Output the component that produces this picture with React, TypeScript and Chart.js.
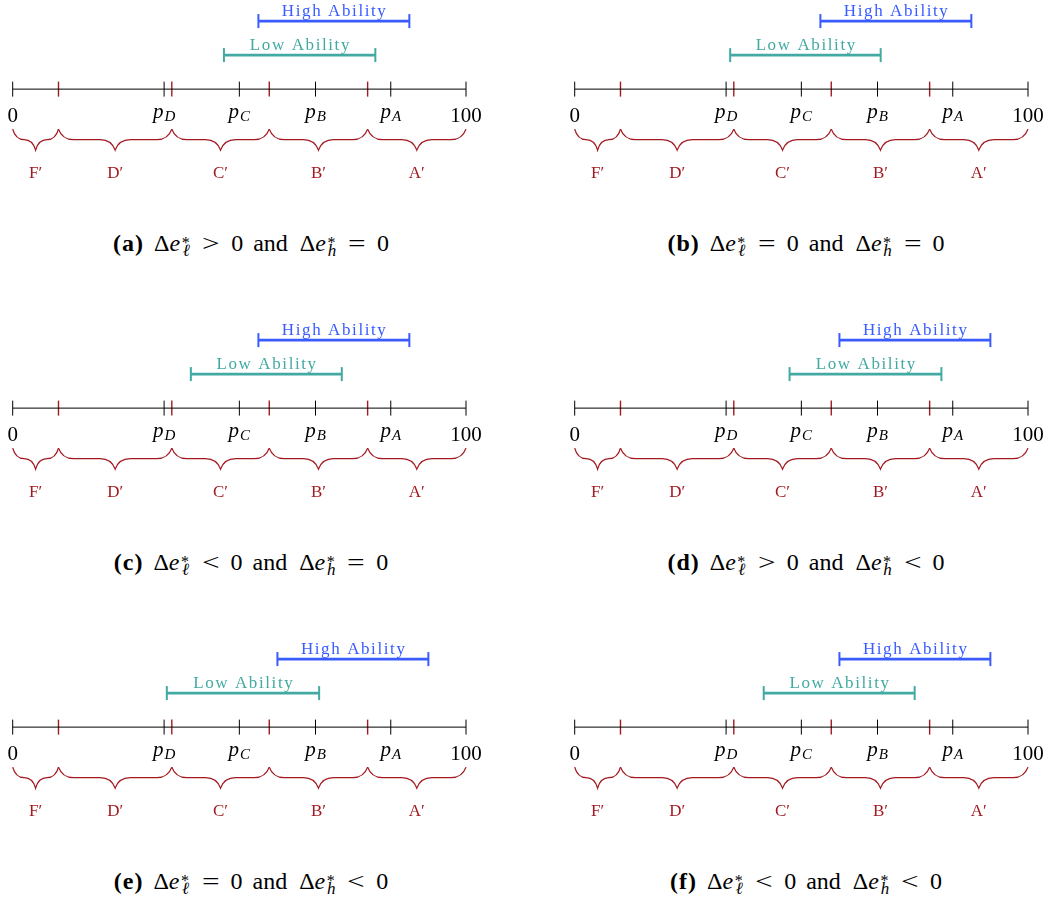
import React, { useEffect, useRef } from 'react';
import { Chart, registerables } from 'chart.js';

Chart.register(...registerables);

// ---- data ----
const panelIds = ['a', 'b', 'c', 'd', 'e', 'f'];
const highStart = [54.2, 54.2, 54.2, 58.4, 58.4, 58.4];
const highEnd = [87.5, 87.5, 87.5, 91.7, 91.7, 91.7];
const lowStart = [46.6, 34.3, 39.3, 47.4, 34.0, 41.7];
const lowEnd = [80.0, 67.5, 72.6, 80.9, 67.6, 75.0];
const lowSign = ['>', '=', '<', '>', '=', '<'];
const highSign = ['=', '=', '=', '<', '<', '<'];

const axisTickValues = [0, 33.4, 50, 66.8, 83.4, 100];
const axisTickLabels = ['0', 'p_D', 'p_C', 'p_B', 'p_A', '100'];
const gradeCutoffs = [10.1, 35.1, 56.6, 78.3];
const gradeLabels = ['F\u2032', 'D\u2032', 'C\u2032', 'B\u2032', 'A\u2032'];
const seriesLabels = ['High Ability', 'Low Ability'];

// ---- style ----
const RED = 'rgb(162, 26, 32)';
const BLUE = 'rgb(58, 92, 255)';
const TEAL = 'rgb(66, 170, 162)';
const SERIF = '"Liberation Serif", "DejaVu Serif", serif';

function drawBrace(ctx: CanvasRenderingContext2D, x1: number, x2: number, y: number, d: number, w: number) {
  const len = x2 - x1;
  const m = (x1 + x2) / 2;
  const a = Math.min(w, len / 4);
  ctx.beginPath();
  ctx.moveTo(x1, y);
  ctx.bezierCurveTo(x1 + 0.15 * a, y + 0.3 * d, x1 + 0.5 * a, y + 0.5 * d, x1 + a, y + 0.5 * d);
  ctx.lineTo(m - a, y + 0.5 * d);
  ctx.bezierCurveTo(m - 0.5 * a, y + 0.5 * d, m - 0.15 * a, y + 0.7 * d, m, y + d);
  ctx.bezierCurveTo(m + 0.15 * a, y + 0.7 * d, m + 0.5 * a, y + 0.5 * d, m + a, y + 0.5 * d);
  ctx.lineTo(x2 - a, y + 0.5 * d);
  ctx.bezierCurveTo(x2 - 0.5 * a, y + 0.5 * d, x2 - 0.15 * a, y + 0.3 * d, x2, y);
  ctx.stroke();
}

function spacedText(ctx: CanvasRenderingContext2D, text: string, cx: number, y: number, spacing: number) {
  (ctx as any).letterSpacing = spacing + 'px';
  const w = ctx.measureText(text).width - spacing;
  ctx.textAlign = 'left';
  ctx.fillText(text, cx - w / 2, y);
  (ctx as any).letterSpacing = '0px';
}

const annotatePlugin = {
  id: 'annotate',
  afterDatasetsDraw(chart: any) {
    const ctx: CanvasRenderingContext2D = chart.ctx;
    const xs = chart.scales.x;
    const ys = chart.scales.y;
    const y0 = ys.getPixelForValue(0);
    ctx.save();
    ctx.textBaseline = 'alphabetic';
    // axis tick labels
    ctx.fillStyle = '#000';
    axisTickValues.forEach((v, i) => {
      const lab = axisTickLabels[i];
      const px = xs.getPixelForValue(v);
      if (lab.startsWith('p_')) {
        const sub = lab.slice(2);
        ctx.font = 'italic 21px ' + SERIF;
        const w1 = ctx.measureText('p').width;
        ctx.font = 'italic 15px ' + SERIF;
        const w2 = ctx.measureText(sub).width;
        const left = px - (w1 + w2 + 1) / 2;
        ctx.textAlign = 'left';
        ctx.font = 'italic 21px ' + SERIF;
        ctx.fillText('p', left, y0 + 28.6);
        ctx.font = 'italic 15px ' + SERIF;
        ctx.fillText(sub, left + w1 + 1, y0 + 32);
      } else {
        ctx.font = '21px ' + SERIF;
        ctx.textAlign = 'center';
        ctx.fillText(lab, px, y0 + 33.3);
      }
    });
    // braces
    const bounds = [0, ...gradeCutoffs, 100];
    ctx.strokeStyle = RED;
    ctx.lineWidth = 1.3;
    ctx.fillStyle = RED;
    for (let i = 0; i < bounds.length - 1; i++) {
      const x1 = xs.getPixelForValue(bounds[i]);
      const x2 = xs.getPixelForValue(bounds[i + 1]);
      drawBrace(ctx, x1, x2, y0 + 40, 21, 15);
      ctx.font = '17px ' + SERIF;
      ctx.textAlign = 'center';
      ctx.fillText(gradeLabels[i], (x1 + x2) / 2, y0 + 89);
    }
    // interval labels
    const ds = chart.data.datasets;
    const hi = ds[3].data, lo = ds[4].data;
    ctx.font = '17px ' + SERIF;
    ctx.fillStyle = BLUE;
    spacedText(ctx, seriesLabels[0], (xs.getPixelForValue(hi[0].x) + xs.getPixelForValue(hi[1].x)) / 2, ys.getPixelForValue(2) - 5.5, 1.6);
    ctx.fillStyle = TEAL;
    spacedText(ctx, seriesLabels[1], (xs.getPixelForValue(lo[0].x) + xs.getPixelForValue(lo[1].x)) / 2, ys.getPixelForValue(1) - 5.2, 1.6);
    ctx.restore();
  },
};

function Panel({ idx }: { idx: number }) {
  const ref = useRef<HTMLCanvasElement | null>(null);
  useEffect(() => {
    if (!ref.current) return;
    const chart = new Chart(ref.current, {
      type: 'scatter',
      data: {
        datasets: [
          {
            data: [{ x: 0, y: 0 }, { x: 100, y: 0 }],
            showLine: true, borderColor: '#000', borderWidth: 1, pointRadius: 0, clip: false,
          } as any,
          {
            data: axisTickValues.map((v) => ({ x: v, y: 0 })),
            showLine: false, pointStyle: 'line', pointRotation: 90, pointRadius: 7.5,
            pointBorderColor: '#000', pointBorderWidth: 1, clip: false,
          },
          {
            data: gradeCutoffs.map((v) => ({ x: v, y: 0 })),
            showLine: false, pointStyle: 'line', pointRotation: 90, pointRadius: 7.5,
            pointBorderColor: RED, pointBorderWidth: 1.4, clip: false,
          },
          {
            data: [{ x: highStart[idx], y: 2 }, { x: highEnd[idx], y: 2 }],
            showLine: true, borderColor: BLUE, borderWidth: 2.6, pointStyle: 'line', pointRotation: 90,
            pointRadius: 7, pointBorderColor: BLUE, pointBorderWidth: 2, clip: false,
          },
          {
            data: [{ x: lowStart[idx], y: 1 }, { x: lowEnd[idx], y: 1 }],
            showLine: true, borderColor: TEAL, borderWidth: 2.6, pointStyle: 'line', pointRotation: 90,
            pointRadius: 7, pointBorderColor: TEAL, pointBorderWidth: 2, clip: false,
          },
        ] as any,
      },
      options: {
        animation: false,
        responsive: false,
        maintainAspectRatio: false,
        events: [],
        layout: { autoPadding: false, padding: { left: 12.7, right: 20, top: 0, bottom: 0 } },
        scales: {
          x: { type: 'linear', min: 0, max: 100, display: false },
          y: { type: 'linear', min: -3.26, max: 2.62, display: false },
        },
        plugins: { legend: { display: false }, tooltip: { enabled: false } },
      } as any,
      plugins: [annotatePlugin],
    });
    return () => chart.destroy();
  }, [idx]);
  const col = idx % 2;
  const row = Math.floor(idx / 2);
  return (
    <canvas
      ref={ref}
      width={486}
      height={200}
      style={{ position: 'absolute', left: col ? 562 : 0, top: row * 319, width: 486, height: 200 }}
    />
  );
}

function SupSub({ sub }: { sub: string }) {
  return (
    <>
      <span style={{ display: 'inline-block', fontSize: 16, verticalAlign: '3px', width: 9, marginLeft: 1 }}>*</span>
      <span style={{ display: 'inline-block', fontSize: 17, fontStyle: 'italic', verticalAlign: '-5px', marginLeft: -9, width: 10 }}>{sub}</span>
    </>
  );
}

function Gap({ w }: { w: number }) {
  return <span style={{ display: 'inline-block', width: w }} />;
}

function Rel({ s }: { s: string }) {
  return (
    <span style={{ display: 'inline-block', width: 18, textAlign: 'center' }}>
      <span style={{ display: 'inline-block', transform: 'scaleX(1.3)' }}>{s}</span>
    </span>
  );
}

function Caption({ idx }: { idx: number }) {
  const col = idx % 2;
  const row = Math.floor(idx / 2);
  const cx = col ? 806 : 251;
  return (
    <div
      style={{
        position: 'absolute',
        top: 228 + row * 319,
        left: cx - 250,
        width: 500,
        textAlign: 'center',
        fontFamily: SERIF,
        fontSize: 24,
        lineHeight: '30px',
        color: '#000',
        whiteSpace: 'nowrap',
      }}
    >
      <b style={{ letterSpacing: '1px' }}>({panelIds[idx]})</b>
      <Gap w={10} />
      {'\u0394'}<i>e</i><SupSub sub={'\u2113'} />
      <Gap w={11} /><Rel s={lowSign[idx]} /><Gap w={11} />0<Gap w={10} />and<Gap w={12} />
      {'\u0394'}<i>e</i><SupSub sub="h" />
      <Gap w={11} /><Rel s={highSign[idx]} /><Gap w={11} />0
    </div>
  );
}

export default function App() {
  useEffect(() => {
    document.body.style.margin = '0';
  }, []);
  return (
    <div style={{ position: 'absolute', left: 0, top: 0, width: 1048, height: 905, background: '#fff', overflow: 'hidden' }}>
      {panelIds.map((_, i) => (
        <React.Fragment key={i}>
          <Panel idx={i} />
          <Caption idx={i} />
        </React.Fragment>
      ))}
    </div>
  );
}
